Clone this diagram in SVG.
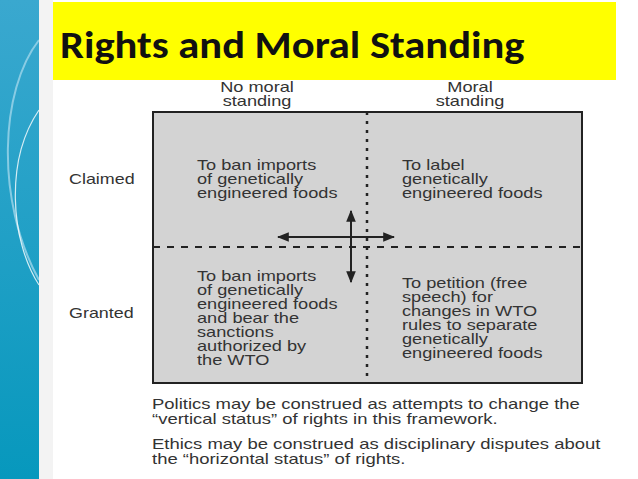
<svg xmlns="http://www.w3.org/2000/svg" width="638" height="479" viewBox="0 0 638 479">
<defs>
<linearGradient id="bg" x1="0" y1="0" x2="0" y2="1"><stop offset="0" stop-color="#3aa8cf"/><stop offset="1" stop-color="#0798bd"/></linearGradient>
<marker id="ah" viewBox="0 0 10 10" refX="9" refY="5" markerWidth="6" markerHeight="6" orient="auto"><path d="M0,1 L10,5 L0,9 Z" fill="#222"/></marker>
<style>
.t{font-family:"Liberation Sans",Arial,sans-serif;font-size:14px;fill:#333}
.n{font-family:"Liberation Sans",Arial,sans-serif;font-size:14px;fill:#333}
</style>
</defs>
<rect width="638" height="479" fill="#fff"/>
<rect x="0" y="0" width="39" height="479" fill="url(#bg)"/>
<path d="M39,40 C0,90 -5,200 39,280" fill="none" stroke="#9fd6ea" stroke-width="2" opacity="0.8"/>
<path d="M39,110 C5,160 10,240 39,285" fill="none" stroke="#fff" stroke-width="1.2" opacity="0.8"/>
<rect x="39" y="0" width="14" height="479" fill="#f3f3f3"/>
<g id="title"><rect x="53" y="2" width="563" height="78" fill="#ffff00"/>
<text transform="translate(60,58) scale(1.12,1)" font-family="Carlito,'Liberation Sans',sans-serif" font-weight="bold" font-size="38" fill="#111">Rights and Moral Standing</text></g>
<g id="grid">
<rect x="153" y="112" width="429" height="271" fill="#d3d3d3" stroke="#222" stroke-width="2"/>
</g>
<g id="connectors">
<line x1="153" y1="247" x2="582" y2="247" stroke="#222" stroke-width="2" stroke-dasharray="7,7"/>
<line x1="367" y1="112" x2="367" y2="383" stroke="#222" stroke-width="2.5" stroke-dasharray="3,6"/>
<line x1="351" y1="245" x2="351" y2="211" stroke="#222" stroke-width="2" marker-end="url(#ah)"/>
<line x1="351" y1="237" x2="351" y2="282" stroke="#222" stroke-width="2" marker-end="url(#ah)"/>
<line x1="351" y1="237" x2="278" y2="237" stroke="#222" stroke-width="2" marker-end="url(#ah)"/>
<line x1="351" y1="237" x2="394" y2="237" stroke="#222" stroke-width="2" marker-end="url(#ah)"/>
</g>
<g id="headers">
<g transform="translate(257,0) scale(1.3,1)"><text class="t" x="0" y="92" text-anchor="middle">No moral</text><text class="t" x="0" y="106" text-anchor="middle">standing</text></g>
<g transform="translate(470,0) scale(1.3,1)"><text class="t" x="0" y="92" text-anchor="middle">Moral</text><text class="t" x="0" y="106" text-anchor="middle">standing</text></g>
<g transform="translate(69,0) scale(1.28,1)"><text class="t" x="0" y="184">Claimed</text><text class="t" x="0" y="318">Granted</text></g>
</g>
<g id="q1" transform="translate(197,0) scale(1.3,1)"><text class="t" x="0" y="170">To ban imports</text><text class="t" x="0" y="184">of genetically</text><text class="t" x="0" y="198">engineered foods</text></g>
<g id="q2" transform="translate(402,0) scale(1.3,1)"><text class="t" x="0" y="170">To label</text><text class="t" x="0" y="184">genetically</text><text class="t" x="0" y="198">engineered foods</text></g>
<g id="q3" transform="translate(197,0) scale(1.3,1)"><text class="t" x="0" y="281">To ban imports</text><text class="t" x="0" y="295">of genetically</text><text class="t" x="0" y="309">engineered foods</text><text class="t" x="0" y="323">and bear the</text><text class="t" x="0" y="337">sanctions</text><text class="t" x="0" y="351">authorized by</text><text class="t" x="0" y="365">the WTO</text></g>
<g id="q4" transform="translate(402,0) scale(1.3,1)"><text class="t" x="0" y="288">To petition (free</text><text class="t" x="0" y="302">speech) for</text><text class="t" x="0" y="316">changes in WTO</text><text class="t" x="0" y="330">rules to separate</text><text class="t" x="0" y="344">genetically</text><text class="t" x="0" y="358">engineered foods</text></g>
<g id="notes" transform="translate(152,0) scale(1.32,1)">
<text class="n" x="0" y="409">Politics may be construed as attempts to change the</text>
<text class="n" x="0" y="424">“vertical status” of rights in this framework.</text>
<text class="n" x="0" y="449">Ethics may be construed as disciplinary disputes about</text>
<text class="n" x="0" y="464">the “horizontal status” of rights.</text>
</g>
</svg>
